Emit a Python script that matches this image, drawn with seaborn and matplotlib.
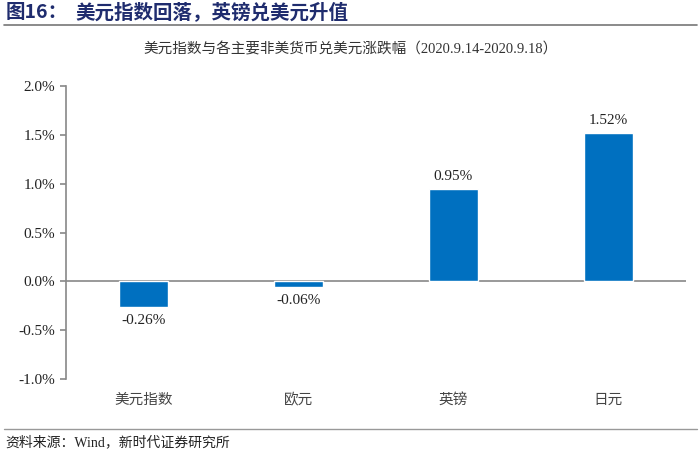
import matplotlib
matplotlib.use("Agg")
import matplotlib.pyplot as plt
import seaborn as sns
import pandas as pd
from matplotlib.ticker import FuncFormatter

categories = ["美元指数", "欧元", "英镑", "日元"]
values = [-0.26, -0.06, 0.95, 1.52]
labels = ["-0.26%", "-0.06%", "0.95%", "1.52%"]
yticks = [-1.0, -0.5, 0.0, 0.5, 1.0, 1.5, 2.0]

sns.set_theme(style="white")
plt.rcParams['font.family'] = ['Liberation Serif', 'Noto Sans CJK SC', 'DejaVu Sans']

df = pd.DataFrame({"cat": categories, "val": values})

fig = plt.figure(figsize=(7, 4.55), dpi=100)
ax = fig.add_axes([66/700, 1-379/455, 620/700, (379-86)/455])

sns.barplot(data=df, x="cat", y="val", color="#0070C0", width=0.31, ax=ax, saturation=1)

ax.set_ylim(-1.0, 2.0)
ax.set_yticks(yticks)
ax.yaxis.set_major_formatter(FuncFormatter(lambda v, p: f"{v:.1f}%"))
ax.set_xlabel("")
ax.set_ylabel("")
for s in ["top", "right", "bottom"]:
    ax.spines[s].set_visible(False)
ax.spines["left"].set_color("#888888")
ax.spines["left"].set_linewidth(1.2)
ax.axhline(0, color="#888888", lw=1.2, zorder=0)
ax.tick_params(axis="y", which="both", left=True, length=4, width=1.2, color="#888888",
               labelsize=11, labelcolor="#222222", pad=4)
ax.tick_params(axis="x", length=0, labelsize=10.5, labelcolor="#444444", pad=10)
for t in ax.get_xticklabels():
    t.set_fontfamily(['Noto Sans CJK SC'])
    t.set_fontsize(10.5)

for i, (v, l) in enumerate(zip(values, labels)):
    if v >= 0:
        ax.text(i, v + 0.06, l, ha="center", va="bottom", fontsize=11, color="#222222")
    else:
        ax.text(i, v - 0.07, l, ha="center", va="top", fontsize=11, color="#222222")

# Header
fig.text(0.008, 1-12/455, "图16：", ha="left", va="center", fontsize=14, fontweight="bold",
         color="#1F2C6E", family=['Noto Sans CJK SC'])
fig.text(75/700, 1-12/455, "美元指数回落，英镑兑美元升值", ha="left", va="center", fontsize=14,
         fontweight="bold", color="#1F2C6E", family=['Noto Sans CJK SC'])
fig.add_artist(plt.Line2D([0.005, 0.995], [1-25/455, 1-25/455], color="#777777", lw=1.2))

fig.text(350/700, 1-49/455, "美元指数与各主要非美货币兑美元涨跌幅（2020.9.14-2020.9.18）", ha="center",
         va="center", fontsize=10.5, color="#333333", family=['Liberation Serif', 'Noto Sans CJK SC'])

# Footer
fig.add_artist(plt.Line2D([0.005, 0.995], [1-429/455, 1-429/455], color="#999999", lw=1.0))
fig.text(0.008, 1-442/455, "资料来源：Wind，新时代证券研究所", ha="left", va="center", fontsize=10,
         color="#222222", family=['Liberation Serif', 'Noto Sans CJK SC'])

fig.savefig("out.png", dpi=100, facecolor="white")
